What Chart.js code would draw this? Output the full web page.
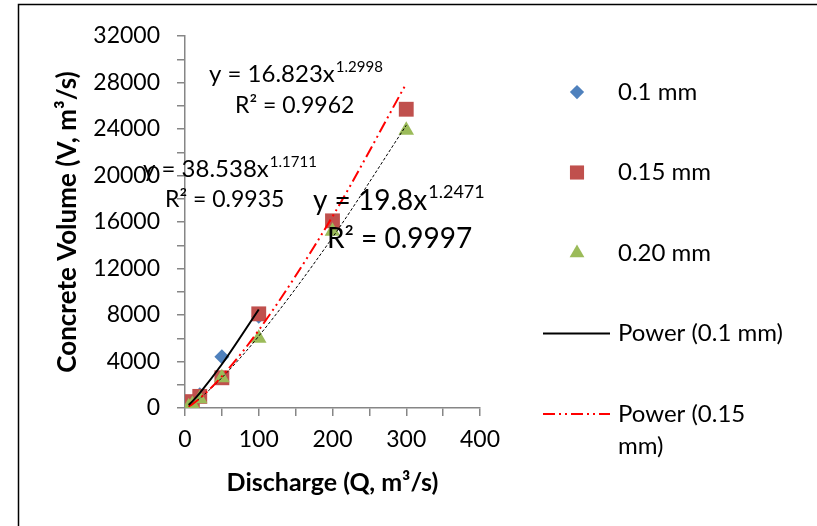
<!DOCTYPE html>
<html>
<head>
<meta charset="utf-8">
<script src="https://cdn.jsdelivr.net/npm/chart.js@4.4.0/dist/chart.umd.min.js"></script>
<style>
  body { margin: 0; background: #fff; }
  canvas { display: block; }
</style>
</head>
<body>
<canvas id="dischargeChart" width="817" height="526"></canvas>
<script>
let discharge = [5, 10, 20, 50, 100, 200, 300];
let volume01 = [200, 450, 1150, 4400, 7900];
let volume015 = [300, 550, 1000, 2600, 8100, 16100, 25700];
let volume020 = [100, 300, 800, 2600, 6000, 15200, 23900];

// power trend lines at the same discharges
let power01 = [254, 571, 1287, 3762, 8475];
let power015 = [136, 335, 826, 2717, 6690, 16475, 27910];
let power020 = [147, 350, 830, 2604, 6182, 14670, 24320];

let xTicks = [0, 100, 200, 300, 400];
let yTicks = [0, 4000, 8000, 12000, 16000, 20000, 24000, 28000, 32000];

let equationTexts = ["y = 16.823x", "y = 38.538x", "y = 19.8x"];
let equationPowers = ["1.2998", "1.1711", "1.2471"];
let rSquaredTexts = ["R² = 0.9962", "R² = 0.9935", "R² = 0.9997"];

function toPoints(xs, ys) {
    return ys.map((y, i) => ({x: xs[i], y: y}));
}

let framePlugin = {
    id: 'frame',
    beforeDraw(chart) {
        let ctx = chart.ctx;
        ctx.save();
        ctx.fillStyle = '#fff';
        ctx.fillRect(0, 0, chart.width, chart.height);
        ctx.strokeStyle = '#000';
        ctx.lineWidth = 1.5;
        ctx.beginPath();
        ctx.moveTo(18.5, chart.height);
        ctx.lineTo(18.5, 4.5);
        ctx.lineTo(chart.width, 4.5);
        ctx.stroke();
        ctx.restore();
    }
};

function drawEquation(ctx, x, y, text, sup, size) {
    ctx.font = size + 'px Lato';
    ctx.fillText(text, x, y);
    let w = ctx.measureText(text).width;
    ctx.font = Math.round(size * 0.64) + 'px Lato';
    ctx.fillText(sup, x + w + 1, y - size * 0.42);
}

let equationPlugin = {
    id: 'equations',
    afterDatasetsDraw(chart) {
        let ctx = chart.ctx;
        ctx.save();
        ctx.fillStyle = '#000';
        ctx.textAlign = 'left';
        ctx.textBaseline = 'alphabetic';
        drawEquation(ctx, 209, 82, equationTexts[0], equationPowers[0], 24);
        ctx.font = '23px Lato';
        ctx.fillText(rSquaredTexts[0], 235, 113);
        drawEquation(ctx, 143, 177, equationTexts[1], equationPowers[1], 24);
        ctx.font = '23px Lato';
        ctx.fillText(rSquaredTexts[1], 165, 207);
        drawEquation(ctx, 313, 210, equationTexts[2], equationPowers[2], 28);
        ctx.font = '28px Lato';
        ctx.fillText(rSquaredTexts[2], 327, 248);
        ctx.restore();
    }
};

let legendPlugin = {
    id: 'sideLegend',
    afterDraw(chart) {
        let ctx = chart.ctx;
        let items = chart.data.datasets.filter(ds => !ds.hideInLegend);
        ctx.save();
        ctx.font = '24px Lato';
        ctx.textBaseline = 'middle';
        ctx.textAlign = 'left';
        items.forEach((ds, i) => {
            let y = 92 + i * 80.5;
            if (ds.showLine) {
                ctx.strokeStyle = ds.borderColor;
                ctx.lineWidth = ds.borderWidth;
                ctx.setLineDash(ds.borderDash || []);
                ctx.beginPath();
                ctx.moveTo(543, y);
                ctx.lineTo(610, y);
                ctx.stroke();
                ctx.setLineDash([]);
            } else {
                ctx.fillStyle = ds.backgroundColor;
                ctx.strokeStyle = ds.borderColor;
                Chart.helpers.drawPoint(ctx, {pointStyle: ds.pointStyle, radius: ds.pointRadius * 0.95, rotation: 0, borderWidth: 0}, 577, y);
            }
            // wrap long labels like the original legend
            let words = ds.label.split(' ');
            let lines = [];
            let line = '';
            for (let word of words) {
                let test = line ? line + ' ' + word : word;
                if (ctx.measureText(test).width > 170 && line) {
                    lines.push(line);
                    line = word;
                } else {
                    line = test;
                }
            }
            lines.push(line);
            ctx.fillStyle = '#000';
            lines.forEach((l, j) => ctx.fillText(l, 618, y + j * 32));
        });
        ctx.restore();
    }
};

Chart.defaults.font.family = 'Lato';
Chart.defaults.color = '#000';

new Chart(document.getElementById('dischargeChart'), {
    type: 'scatter',
    data: {
        datasets: [{
            label: '0.1 mm',
            data: toPoints(discharge, volume01),
            pointStyle: 'rectRot',
            pointRadius: 7.5,
            backgroundColor: '#4F81BD',
            borderColor: '#4F81BD',
            borderWidth: 0,
            order: 3
        }, {
            label: '0.15 mm',
            data: toPoints(discharge, volume015),
            pointStyle: 'rect',
            pointRadius: 10.5,
            backgroundColor: '#C0504D',
            borderColor: '#C0504D',
            borderWidth: 0,
            order: 2
        }, {
            label: '0.20 mm',
            data: toPoints(discharge, volume020),
            pointStyle: 'triangle',
            pointRadius: 9,
            backgroundColor: '#9BBB59',
            borderColor: '#9BBB59',
            borderWidth: 0,
            order: 1
        }, {
            label: 'Power (0.1 mm)',
            data: toPoints(discharge, power01),
            showLine: true,
            pointRadius: 0,
            borderColor: '#000',
            borderWidth: 2,
            cubicInterpolationMode: 'monotone',
            order: 0
        }, {
            label: 'Power (0.15 mm)',
            data: toPoints(discharge, power015),
            showLine: true,
            pointRadius: 0,
            borderColor: '#FF0000',
            borderWidth: 2,
            borderDash: [12, 4, 2, 4, 2, 4],
            cubicInterpolationMode: 'monotone',
            order: 0
        }, {
            label: 'Power (0.20 mm)',
            data: toPoints(discharge, power020),
            showLine: true,
            pointRadius: 0,
            borderColor: '#000',
            borderWidth: 1,
            borderDash: [3, 2],
            cubicInterpolationMode: 'monotone',
            hideInLegend: true,
            order: 0
        }]
    },
    options: {
        responsive: false,
        animation: false,
        layout: {
            padding: {left: 48, right: 337, top: 36, bottom: 24}
        },
        plugins: {
            legend: {display: false},
            tooltip: {enabled: false}
        },
        scales: {
            x: {
                type: 'linear',
                min: 0,
                max: 400,
                afterFit: scale => { scale.height = 94; },
                ticks: {
                    stepSize: 50,
                    autoSkip: false,
                    maxRotation: 0,
                    padding: 10,
                    font: {size: 23},
                    callback: value => xTicks.includes(value) ? value : ''
                },
                grid: {drawOnChartArea: false, tickLength: 8, color: '#868686', lineWidth: 1.5},
                border: {color: '#868686', width: 1.5},
                title: {
                    display: true,
                    text: 'Discharge (Q, m³/s)',
                    font: {size: 25, weight: 'bold'}
                }
            },
            y: {
                type: 'linear',
                min: 0,
                max: 32000,
                afterFit: scale => { scale.width = 137; },
                ticks: {
                    stepSize: 2000,
                    autoSkip: false,
                    padding: 17,
                    font: {size: 23},
                    callback: value => yTicks.includes(value) ? value : ''
                },
                grid: {drawOnChartArea: false, tickLength: 8, color: '#868686', lineWidth: 1.5},
                border: {color: '#868686', width: 1.5},
                title: {
                    display: true,
                    text: 'Concrete Volume (V, m³/s)',
                    font: {size: 26, weight: 'bold'}
                }
            }
        }
    },
    plugins: [framePlugin, equationPlugin, legendPlugin]
});
</script>
</body>
</html>
